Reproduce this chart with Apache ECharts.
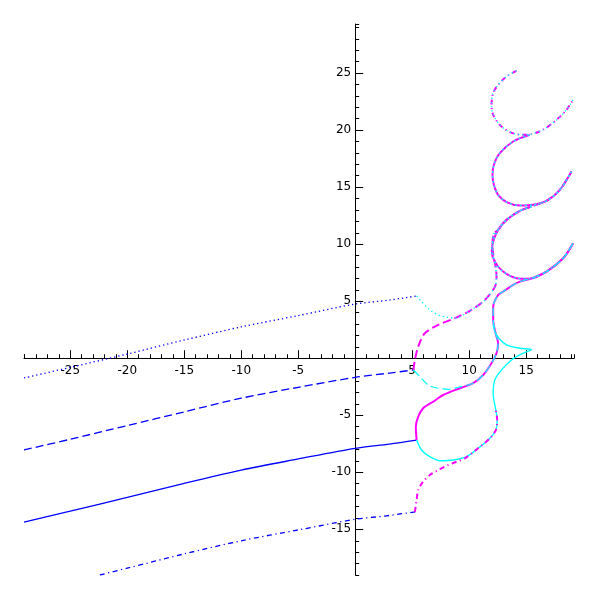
<!DOCTYPE html>
<html>
<head>
<meta charset="utf-8">
<title>branches</title>
<script src="https://cdn.jsdelivr.net/npm/echarts@6/dist/echarts.min.js"></script>
<style>
  html, body { margin: 0; padding: 0; background: #fff; }
  #chart { width: 600px; height: 600px; }
</style>
</head>
<body>
<div id="chart"></div>
<script>
// axis extents
const xRange = [-29.06, 19.2];
const yRange = [-19.0, 29.3];

// blue parts, left of the branch points
const blueDotted = [[-29.06, -1.73], [-25, -0.8], [-20, 0.37], [-15, 1.6], [-10, 2.75], [-5, 3.74], [0, 4.75], [3, 5.1], [5.41, 5.46]];
const blueDashed = [[-29.06, -8.04], [-25, -7.1], [-20, -5.9], [-15, -4.7], [-10, -3.5], [-5, -2.55], [0, -1.67], [3, -1.3], [5.11, -1.03]];
const blueSolid = [[-29.06, -14.36], [-25, -13.4], [-20, -12.2], [-15, -10.96], [-10, -9.8], [-5, -8.83], [0, -7.9], [3, -7.52], [5.39, -7.17]];
const blueDashDot = [[-22.4, -19.0], [-20, -18.4], [-15, -17.15], [-10, -16.0], [-5, -15.05], [0, -14.12], [2.6, -13.83], [5.39, -13.45]];

// magenta branches
const magentaSolid = [[5.39, -7.17], [5.32, -6.0], [5.53, -5.12], [5.96, -4.39], [6.84, -3.81], [7.72, -3.22], [9.18, -2.63],
  [10.35, -2.19], [11.23, -1.47], [11.96, -0.44], [12.4, 0.44], [12.54, 1.32], [12.32, 2.19], [12.11, 3.36], [12.11, 4.53],
  [12.54, 5.55], [12.98, 5.84], [13.86, 6.43], [14.45, 6.72], [15.32, 6.96], [16.79, 7.6], [18.25, 8.77], [19.12, 10.09]];
const magentaDashed = [[5.11, -1.03], [5.24, -0.15], [5.53, 1.02], [6.11, 2.19], [7.28, 2.92], [8.75, 3.51], [10.21, 4.24],
  [11.38, 5.11], [12.25, 6.25], [12.4, 7.13], [12.34, 7.92], [12.12, 9.06], [12.05, 9.94], [12.17, 10.9], [12.54, 11.25],
  [13.28, 12.13], [14.45, 12.92], [15.47, 13.3], [16.79, 13.8], [17.96, 14.76], [18.98, 16.37]];
const magentaDashDot = [[5.24, -13.46], [5.39, -12.43], [5.53, -11.55], [5.96, -10.82], [6.55, -10.24], [7.28, -9.8],
  [8.16, -9.36], [8.89, -9.07], [9.62, -8.77], [10.79, -7.89], [11.82, -7.02], [12.34, -6.29], [12.46, -5.41], [12.34, -4.53]];

// cyan branches
const cyanDotted = [[5.41, 5.46], [5.68, 5.11], [6.55, 4.24], [7.28, 3.8], [8.02, 3.6], [8.75, 3.53], [10.21, 4.24],
  [11.38, 5.11], [12.25, 6.25], [12.4, 7.13], [12.34, 7.92], [12.12, 9.06], [12.05, 9.94], [12.17, 10.9], [12.54, 11.25],
  [13.28, 12.13], [14.45, 12.92], [15.47, 13.3], [16.79, 13.8], [17.96, 14.76], [18.98, 16.37]];
const cyanDashed = [[5.11, -1.03], [5.68, -1.61], [6.4, -2.34], [7.28, -2.63], [8.16, -2.72], [9.04, -2.54], [10.35, -2.19],
  [11.23, -1.47], [11.96, -0.44], [12.4, 0.44], [12.54, 1.32], [12.32, 2.19], [12.11, 3.36], [12.11, 4.53], [12.54, 5.55],
  [12.98, 5.84], [13.86, 6.43], [14.45, 6.72], [15.32, 6.96], [16.79, 7.6], [18.25, 8.77], [19.12, 10.09]];
const cyanSolid = [[5.39, -7.17], [5.82, -8.04], [6.55, -8.63], [7.43, -8.98], [8.6, -8.92], [9.77, -8.63], [10.79, -7.89],
  [11.82, -7.02], [12.34, -6.29], [12.46, -5.41], [12.34, -4.53], [12.17, -3.66], [12.11, -3.07], [12.25, -1.9],
  [12.84, -1.02], [13.72, -0.15], [14.6, 0.38], [15.47, 0.77], [14.45, 0.88], [13.28, 1.17], [12.4, 2.04], [12.11, 2.92]];

// upper loops where both branches run together
const loopMid = [[15.47, 13.3], [14.45, 12.92], [13.28, 12.13], [12.54, 11.25], [12.11, 10.23], [11.99, 9.35], [12.25, 8.47],
  [12.98, 7.6], [14.16, 7.02], [15.32, 6.96], [16.79, 7.6], [18.25, 8.77], [19.12, 10.09]];
const loopTop = [[15.32, 19.59], [13.86, 19.0], [12.69, 17.98], [12.17, 16.96], [12.05, 16.08], [12.17, 15.2], [12.54, 14.32],
  [13.28, 13.68], [14.45, 13.39], [15.61, 13.45], [16.79, 13.8], [17.96, 14.76], [18.98, 16.37]];
const loopDashDot = [[14.16, 25.2], [13.28, 24.7], [12.54, 23.97], [12.11, 23.25], [11.96, 22.22], [12.11, 21.34], [12.69, 20.46],
  [13.57, 19.82], [14.6, 19.59], [15.47, 19.65], [16.49, 20.03], [17.67, 20.9], [18.54, 21.78], [19.12, 22.66]];

const BLUE = "#0000ff";
const MAGENTA = "#ff00ff";
const CYAN = "#00ffff";

const DOTTED = [1.3, 2.9];
const DASHED = [8, 4];
const DASHDOT = [5, 3.5, 1.2, 3.5];

// grid box in pixels; the axes are moved onto the zero lines with offset
const GRID = { left: 24, right: 26, top: 24, bottom: 25 };
const plotW = 600 - GRID.left - GRID.right;
const plotH = 600 - GRID.top - GRID.bottom;
const zeroX = GRID.left + ((0 - xRange[0]) / (xRange[1] - xRange[0])) * plotW;
const zeroY = GRID.top + ((yRange[1] - 0) / (yRange[1] - yRange[0])) * plotH;
const xOffset = -(GRID.top + plotH - zeroY);
const yOffset = -(zeroX - GRID.left);

const curve = (data, color, type, width, z) => ({
  type: "line",
  data: data,
  showSymbol: false,
  symbol: "none",
  smooth: 0.3,
  clip: true,
  silent: true,
  z: z,
  lineStyle: { color: color, width: width, type: type, cap: "butt" },
});

const labelFmt = (v) => (v === 0 ? "" : String(v));

const axisFont = { fontFamily: "DejaVu Sans", fontSize: 12, color: "#000" };

const majorAxis = (range, margin, offset) => ({
  type: "value",
  min: range[0],
  max: range[1],
  splitNumber: 10,
  offset: offset,
  axisLine: { show: true, onZero: false, lineStyle: { color: "#000", width: 1 } },
  axisTick: { show: true, inside: true, length: 8, lineStyle: { color: "#000", width: 1 } },
  axisLabel: { ...axisFont, margin: margin, formatter: labelFmt, showMinLabel: false, showMaxLabel: false },
  splitLine: { show: false },
});

const minorAxis = (range, offset) => ({
  type: "value",
  min: range[0],
  max: range[1],
  splitNumber: 48,
  offset: offset,
  axisLine: { show: false, onZero: false },
  axisTick: { show: true, inside: true, length: 4, lineStyle: { color: "#000", width: 1 } },
  axisLabel: { show: false },
  splitLine: { show: false },
});

const chart = echarts.init(document.getElementById("chart"));

chart.setOption({
  animation: false,
  backgroundColor: "#fff",
  grid: { ...GRID, containLabel: false },
  xAxis: [
    { ...majorAxis(xRange, 7, xOffset), position: "bottom" },
    { ...minorAxis(xRange, xOffset), position: "bottom" },
  ],
  yAxis: [
    { ...majorAxis(yRange, 4, yOffset), position: "left" },
    { ...minorAxis(yRange, yOffset), position: "left" },
  ],
  series: [
    curve(blueDotted, BLUE, DOTTED, 1.3, 2),
    curve(blueDashed, BLUE, DASHED, 1.3, 2),
    curve(blueSolid, BLUE, "solid", 1.3, 2),
    curve(blueDashDot, BLUE, DASHDOT, 1.3, 2),

    curve(loopDashDot, MAGENTA, DASHDOT, 2, 3),
    curve(loopDashDot, CYAN, DOTTED, 1.3, 4),
    curve(loopTop, MAGENTA, "solid", 2, 3),
    curve(loopTop, CYAN, [2, 3], 1.3, 4),
    curve(loopMid, MAGENTA, "solid", 2, 3),
    curve(loopMid, CYAN, [2, 3], 1.3, 4),

    curve(magentaSolid, MAGENTA, "solid", 2, 3),
    curve(magentaDashed, MAGENTA, DASHED, 2, 3),
    curve(magentaDashDot, MAGENTA, DASHDOT, 2, 5),

    curve(cyanSolid, CYAN, "solid", 1.4, 4),
    curve(cyanDashed, CYAN, DASHED, 1.2, 4),
    curve(cyanDotted, CYAN, DOTTED, 1.4, 4),
  ],
});
</script>
</body>
</html>
